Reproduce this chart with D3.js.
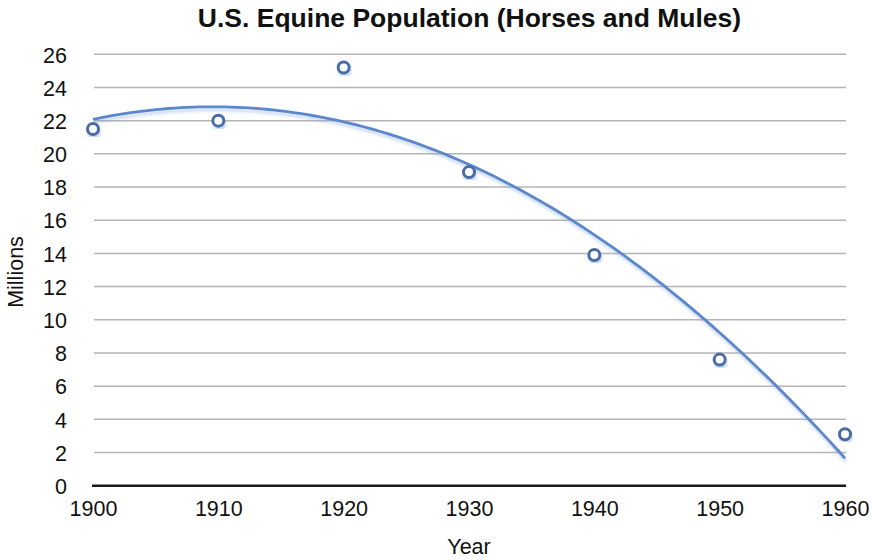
<!DOCTYPE html>
<html>
<head>
<meta charset="utf-8">
<script src="https://cdn.jsdelivr.net/npm/d3@7"></script>
<style>
  html, body { margin: 0; padding: 0; background: #fff; }
  svg { display: block; font-family: "Liberation Sans", Arial, Helvetica, sans-serif; }
</style>
</head>
<body>
<svg id="chart" width="872" height="560"></svg>
<script>
// ---- data ----
const years = [1900, 1910, 1920, 1930, 1940, 1950, 1960];
const millions = [21.5, 22.0, 25.2, 18.9, 13.9, 7.6, 3.1];
const yTicks = [0, 2, 4, 6, 8, 10, 12, 14, 16, 18, 20, 22, 24, 26];
const xTicks = [1900, 1910, 1920, 1930, 1940, 1950, 1960];
const titleText = "U.S. Equine Population (Horses and Mules)";
const xLabel = "Year";
const yLabel = "Millions";

(function () {
// ---- layout ----
const svg = d3.select("#chart");
const pL = 93, pR = 845, pT = 54.3, pB = 485.7;

const x = d3.scaleLinear().domain([1900, 1960]).range([pL, pR]);
const y = d3.scaleLinear().domain([0, 26]).range([pB, pT]);

// defs: soft shadow for trend line & markers
const defs = svg.append("defs");
const f = defs.append("filter").attr("id", "shadow").attr("x", "-20%").attr("y", "-20%").attr("width", "140%").attr("height", "140%");
f.append("feGaussianBlur").attr("in", "SourceAlpha").attr("stdDeviation", 1.6).attr("result", "blur");
f.append("feOffset").attr("in", "blur").attr("dx", 1).attr("dy", 2.5).attr("result", "off");
f.append("feFlood").attr("flood-color", "#7fa3dd").attr("flood-opacity", 0.45).attr("result", "col");
f.append("feComposite").attr("in", "col").attr("in2", "off").attr("operator", "in").attr("result", "sh");
const fm = f.append("feMerge");
fm.append("feMergeNode").attr("in", "sh");
fm.append("feMergeNode").attr("in", "SourceGraphic");

// gridlines
svg.append("g")
  .selectAll("line")
  .data(yTicks.filter(d => d !== 0))
  .join("line")
  .attr("x1", pL + 1).attr("x2", pR + 1)
  .attr("y1", d => y(d)).attr("y2", d => y(d))
  .attr("stroke", "#b4b4b4").attr("stroke-width", 1.5);

// y axis labels
const yAxis = d3.axisLeft(y).tickValues(yTicks).tickSize(0).tickPadding(0).tickFormat(d3.format("d"));
const gy = svg.append("g").attr("transform", `translate(${pL - 26},0)`).call(yAxis);
gy.select(".domain").remove();
gy.selectAll("text").attr("font-size", 21.5).attr("fill", "#111").attr("dy", "0.36em")
  .attr("font-family", "Liberation Sans, Arial, sans-serif");

// x axis
const xAxis = d3.axisBottom(x).tickValues(xTicks).tickSize(0).tickPadding(0).tickFormat(d3.format("d"));
const gx = svg.append("g").attr("transform", `translate(0,${pB})`).call(xAxis);
gx.select(".domain").remove();
gx.selectAll("text").attr("font-size", 21.5).attr("fill", "#111").attr("dy", 0).attr("y", 30.5)
  .attr("font-family", "Liberation Sans, Arial, sans-serif");

// baseline axis line
svg.append("line")
  .attr("x1", pL - 1).attr("x2", pR + 1)
  .attr("y1", y(0)).attr("y2", y(0))
  .attr("stroke", "#1a1a1a").attr("stroke-width", 2.5);

// quadratic least-squares trendline computed from the data
function quadFit(xs, ys) {
  const mx = d3.mean(xs);
  const t = xs.map(v => (v - mx) / 10);
  const S = [0,0,0,0,0], T = [0,0,0];
  t.forEach((ti, i) => {
    for (let k = 0; k < 5; k++) S[k] += Math.pow(ti, k);
    for (let k = 0; k < 3; k++) T[k] += Math.pow(ti, k) * ys[i];
  });
  const A = [[S[0], S[1], S[2]], [S[1], S[2], S[3]], [S[2], S[3], S[4]]];
  const b = T.slice();
  for (let i = 0; i < 3; i++) {
    for (let j = i + 1; j < 3; j++) {
      const r = A[j][i] / A[i][i];
      for (let k = i; k < 3; k++) A[j][k] -= r * A[i][k];
      b[j] -= r * b[i];
    }
  }
  const c = [0, 0, 0];
  for (let i = 2; i >= 0; i--) {
    let s = b[i];
    for (let k = i + 1; k < 3; k++) s -= A[i][k] * c[k];
    c[i] = s / A[i][i];
  }
  return v => { const tt = (v - mx) / 10; return c[0] + c[1] * tt + c[2] * tt * tt; };
}
const fit = quadFit(years, millions);
const trendX = d3.range(1900, 1960.001, 0.5);
const line = d3.line().x(d => x(d)).y(d => y(fit(d)));
svg.append("path")
  .datum(trendX)
  .attr("d", line)
  .attr("fill", "none")
  .attr("stroke", "#5b87cc")
  .attr("stroke-width", 2.8)
  .attr("filter", "url(#shadow)");

// markers
svg.append("g")
  .selectAll("circle")
  .data(years.map((yr, i) => ({ yr, v: millions[i] })))
  .join("circle")
  .attr("cx", d => x(d.yr)).attr("cy", d => y(d.v))
  .attr("r", 5.5)
  .attr("fill", "#fff")
  .attr("stroke", "#4a6ca8")
  .attr("stroke-width", 3)
  .attr("filter", "url(#shadow)");

// title
svg.append("text")
  .attr("x", 469.5).attr("y", 27)
  .attr("text-anchor", "middle")
  .attr("font-size", 26.5).attr("font-weight", "bold").attr("fill", "#111")
  .text(titleText);

// axis titles
svg.append("text")
  .attr("x", (pL + pR) / 2).attr("y", 554)
  .attr("text-anchor", "middle")
  .attr("font-size", 21.5).attr("fill", "#111")
  .text(xLabel);

svg.append("text")
  .attr("transform", `translate(23,${(pT + pB) / 2 + 2}) rotate(-90)`)
  .attr("text-anchor", "middle")
  .attr("font-size", 21.5).attr("fill", "#111")
  .text(yLabel);
})();
</script>
</body>
</html>
